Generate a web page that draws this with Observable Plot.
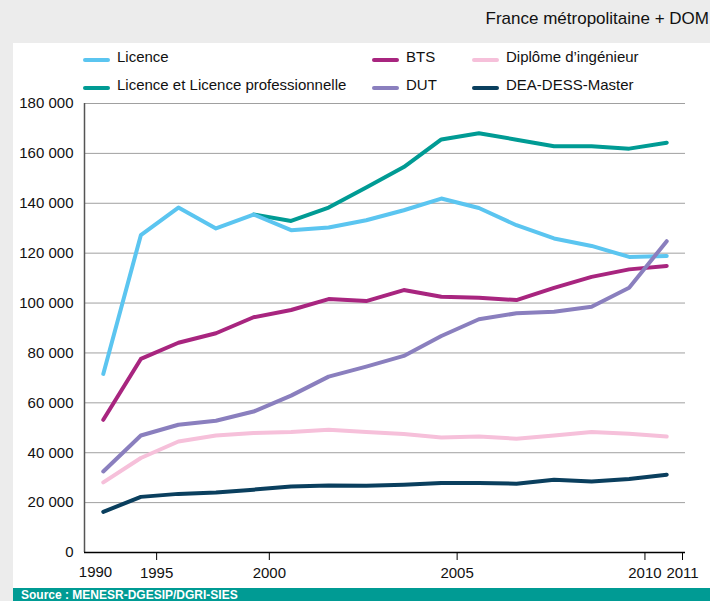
<!DOCTYPE html>
<html><head><meta charset="utf-8">
<script src="https://cdn.jsdelivr.net/npm/d3@7"></script>
<script src="https://cdn.jsdelivr.net/npm/@observablehq/plot@0.6"></script>
<style>
html,body{margin:0;padding:0;background:#ececec;}
body{width:710px;height:601px;position:relative;overflow:hidden;font-family:"Liberation Sans",Arial,sans-serif;color:#111;}
#sub{position:absolute;right:1px;top:9px;font-size:17px;line-height:20px;white-space:nowrap;}
#panel{position:absolute;left:13px;top:43px;right:0;bottom:0;background:#fff;}
.item{position:absolute;display:flex;align-items:center;font-size:15px;line-height:18px;white-space:nowrap;}
.sw{display:inline-block;width:27px;height:4px;border-radius:2px;margin-right:7px;margin-top:5px;}
#chart{position:absolute;left:0;top:95px;}
#source{position:absolute;left:13px;right:0;top:588px;height:20px;background:#009b94;color:#fff;font-weight:bold;font-size:12px;line-height:14px;padding-left:8px;box-sizing:border-box;}
</style></head>
<body>
<div id="sub">France métropolitaine + DOM</div>
<div id="panel"></div>
<div id="legend"></div>
<div id="chart"></div>
<div id="source">Source : MENESR-DGESIP/DGRI-SIES</div>
<script>
// Category index of each survey point (16 sessions)
const sessions = [0,1,2,3,4,5,6,7,8,9,10,11,12,13,14,15];

const seriesNames = ["Licence et Licence professionnelle","Licence","BTS","DUT","Diplôme d’ingénieur","DEA-DESS-Master"];
const seriesColors = ["#009b94","#5bc5f0","#a8257f","#8a7fbe","#f6c0da","#0a3f5e"];

const licence    = [71600,127200,138300,129900,135500,129200,130300,133200,137200,141900,138100,131200,125900,122900,118500,118900];
const licenceLP  = [null,null,null,null,135500,132900,138300,146300,154500,165600,168100,165500,162900,162900,161900,164300];
const bts        = [53200,77600,84100,87900,94300,97200,101600,100800,105200,102500,102100,101200,106100,110500,113500,114900];
const dut        = [32500,46900,51200,52800,56500,62900,70500,74500,78800,86800,93500,95900,96500,98500,106100,124800];
const ingenieur  = [28100,37900,44500,46900,47900,48300,49200,48300,47500,46100,46500,45600,46900,48300,47600,46500];
const master     = [16300,22300,23500,24100,25200,26500,26900,26800,27200,27900,27900,27600,29200,28500,29500,31200];

const yTicks = [0,20000,40000,60000,80000,100000,120000,140000,160000,180000];
// x-axis labels sit on the boundaries between sessions
const xTickLabels = ["1990","1995","2000","2005","2010","2011"];
const xTickAt     = [-0.5,1.5,4.5,9.5,14.5,15.5];

const valuesBySeries = [licenceLP, licence, bts, dut, ingenieur, master];
const rows = [];
seriesNames.forEach((name, k) => {
  valuesBySeries[k].forEach((v, i) => {
    if (v != null) rows.push({series: name, i: sessions[i], value: v});
  });
});

// legend
const legendOrder = ["Licence","Licence et Licence professionnelle","BTS","DUT","Diplôme d’ingénieur","DEA-DESS-Master"];
const legendSlots = [[83,48],[83,76],[372,48],[372,76],[472,48],[472,76]];
const legend = document.getElementById("legend");
legendOrder.forEach((name, k) => {
  const d = document.createElement("div");
  d.className = "item";
  d.style.left = legendSlots[k][0] + "px";
  d.style.top = legendSlots[k][1] + "px";
  const sw = document.createElement("span");
  sw.className = "sw";
  sw.style.background = seriesColors[seriesNames.indexOf(name)];
  d.appendChild(sw);
  d.appendChild(document.createTextNode(name));
  legend.appendChild(d);
});

const fmt = d => d === 0 ? "0" : d3.format(",")(d).replace(/,/g, " ");
const labelOf = new Map(xTickAt.map((p, i) => [p, xTickLabels[i]]));

const chart = Plot.plot({
  width: 710, height: 493,
  marginLeft: 84, marginRight: 25, marginTop: 8, marginBottom: 36,
  style: {fontFamily: "'Liberation Sans', Arial, sans-serif", fontSize: "15px", color: "#111", background: "transparent"},
  x: {type: "linear", domain: [-0.5, 15.5], label: null},
  y: {domain: [0, 180000], label: null},
  color: {domain: seriesNames, range: seriesColors},
  marks: [
    Plot.gridY(yTicks.slice(1), {stroke: "#a0a0a0", strokeOpacity: 1, strokeWidth: 1}),
    Plot.axisY(yTicks, {tickSize: 0, tickPadding: 11, tickFormat: fmt, fontSize: 15, label: null}),
    Plot.axisX(xTickAt.slice(1), {tickSize: 8, tickPadding: 7, tickFormat: d => labelOf.get(d), stroke: "#000", fontSize: 15, dx: -3, label: null}),
    Plot.text([xTickAt[0]], {x: d => d, frameAnchor: "bottom", dy: 24, dx: 11, text: d => labelOf.get(d), fontSize: 15, fill: "#111"}),
    Plot.ruleX([-0.5], {stroke: "#555", strokeWidth: 1.5}),
    Plot.ruleY([0], {stroke: "#000", strokeWidth: 1.5}),
    Plot.line(rows, {x: "i", y: "value", z: "series", stroke: "series", strokeWidth: 4, strokeLinejoin: "round", strokeLinecap: "round"})
  ]
});
document.getElementById("chart").appendChild(chart);
</script>
</body></html>
